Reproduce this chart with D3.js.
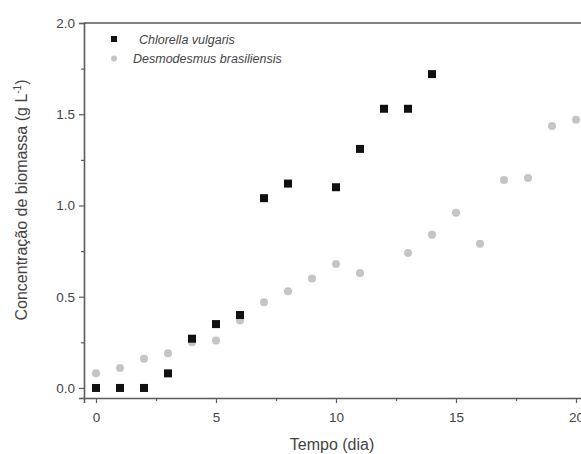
<!DOCTYPE html>
<html>
<head>
<meta charset="utf-8">
<script src="https://cdn.jsdelivr.net/npm/d3@7"></script>
<style>
  body { margin: 0; background: #fff; }
  svg { display: block; font-family: "Liberation Sans", Arial, sans-serif; }
</style>
</head>
<body>
<div id="chart"></div>
<script>
// data
const chlorellaDays = [0, 1, 2, 3, 4, 5, 6, 7, 8, 10, 11, 12, 13, 14];
const chlorellaValues = [0.0, 0.0, 0.0, 0.08, 0.27, 0.35, 0.40, 1.04, 1.12, 1.10, 1.31, 1.53, 1.53, 1.72];
const desmoDays = [0, 1, 2, 3, 4, 5, 6, 7, 8, 9, 10, 11, 13, 14, 15, 16, 17, 18, 19, 20];
const desmoValues = [0.08, 0.11, 0.16, 0.19, 0.25, 0.26, 0.37, 0.47, 0.53, 0.60, 0.68, 0.63, 0.74, 0.84, 0.96, 0.79, 1.14, 1.15, 1.435, 1.47];
const xTicks = [0, 5, 10, 15, 20];
const yTicks = [0.0, 0.5, 1.0, 1.5, 2.0];
const legendLabels = ["Chlorella vulgaris", "Desmodesmus brasiliensis"];

const ctx = {
    w: 581, h: 454,
    left: 84, top: 23, bottom: 398,
    axisColor: "#5a5a5a",
    textColor: "#444",
    squareColor: "#111",
    circleColor: "#c4c4c4"
};

const svg = d3.select("#chart").append("svg")
    .attr("width", ctx.w)
    .attr("height", ctx.h);

let x = d3.scaleLinear().domain([-0.5, 21]).range([ctx.left, ctx.left + 21.5 * 24]);
let y = d3.scaleLinear().domain([-0.055, 2.0]).range([ctx.bottom, ctx.top]);

// minor ticks
let xMinor = d3.range(0, 21, 2.5).filter(v => v % 5 !== 0);
let yMinor = d3.range(0.25, 2.0, 0.5);

svg.append("g")
    .attr("transform", "translate(0," + ctx.bottom + ")")
    .call(d3.axisBottom(x).tickValues(xTicks).tickFormat(d3.format("d")).tickSize(5).tickPadding(9));
svg.append("g")
    .attr("transform", "translate(0," + ctx.bottom + ")")
    .call(d3.axisBottom(x).tickValues(xMinor).tickFormat("").tickSize(3))
    .select(".domain").remove();

svg.append("g")
    .attr("transform", "translate(" + ctx.left + ",0)")
    .call(d3.axisLeft(y).tickValues(yTicks).tickFormat(d3.format(".1f")).tickSize(5).tickPadding(4));
svg.append("g")
    .attr("transform", "translate(" + ctx.left + ",0)")
    .call(d3.axisLeft(y).tickValues(yMinor).tickFormat("").tickSize(3))
    .select(".domain").remove();

svg.selectAll(".domain").attr("stroke", ctx.axisColor).attr("stroke-width", 1.6);
svg.selectAll(".tick line").attr("stroke", ctx.axisColor).attr("stroke-width", 1.2);
svg.selectAll(".tick text")
    .attr("fill", ctx.textColor)
    .style("font-size", "13.5px")
    .style("font-family", "Liberation Sans, Arial, sans-serif");

// top frame line
svg.append("line")
    .attr("x1", ctx.left).attr("x2", ctx.w)
    .attr("y1", y(2.0)).attr("y2", y(2.0))
    .attr("stroke", ctx.axisColor)
    .attr("stroke-width", 1.6);

// axis titles
svg.append("text")
    .attr("x", 332).attr("y", 450)
    .attr("text-anchor", "middle")
    .attr("fill", ctx.textColor)
    .style("font-size", "16px")
    .text("Tempo (dia)");

let yTitle = svg.append("text")
    .attr("transform", "translate(27,200) rotate(-90)")
    .attr("text-anchor", "middle")
    .attr("fill", ctx.textColor)
    .style("font-size", "16px");
yTitle.append("tspan").text("Concentração de biomassa (g L");
yTitle.append("tspan").attr("dy", -6).style("font-size", "10px").text("-1");
yTitle.append("tspan").attr("dy", 6).text(")");

// points
let desmo = desmoDays.map((d, i) => [d, desmoValues[i]]);
let chlorella = chlorellaDays.map((d, i) => [d, chlorellaValues[i]]);

svg.append("g").selectAll("circle")
    .data(desmo)
    .enter()
    .append("circle")
    .attr("cx", d => x(d[0]))
    .attr("cy", d => y(d[1]))
    .attr("r", 4)
    .attr("fill", ctx.circleColor);

svg.append("g").selectAll("rect")
    .data(chlorella)
    .enter()
    .append("rect")
    .attr("x", d => x(d[0]) - 4)
    .attr("y", d => y(d[1]) - 4)
    .attr("width", 8)
    .attr("height", 8)
    .attr("fill", ctx.squareColor);

// legend
let legendG = svg.append("g");
legendG.append("rect")
    .attr("x", 111).attr("y", 36)
    .attr("width", 6).attr("height", 6)
    .attr("fill", ctx.squareColor);
legendG.append("circle")
    .attr("cx", 114).attr("cy", 58.5)
    .attr("r", 3)
    .attr("fill", ctx.circleColor);
legendG.append("text")
    .attr("x", 139).attr("y", 44)
    .attr("fill", ctx.textColor)
    .style("font-size", "12.5px")
    .style("font-style", "italic")
    .text(legendLabels[0]);
legendG.append("text")
    .attr("x", 133).attr("y", 63)
    .attr("fill", ctx.textColor)
    .style("font-size", "12.5px")
    .style("font-style", "italic")
    .text(legendLabels[1]);
</script>
</body>
</html>
